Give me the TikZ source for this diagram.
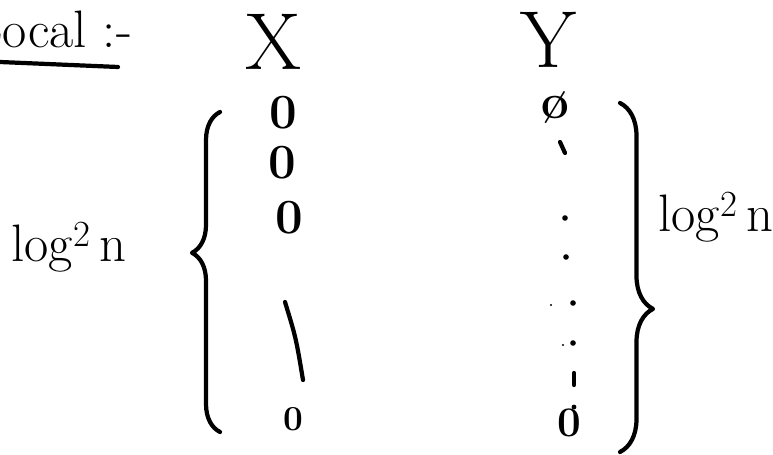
\documentclass[tikz,border=0pt]{standalone}
\usepackage{tikz}
\usetikzlibrary{decorations.pathreplacing, positioning, calc}

\tikzset{
  pen/.style={line width=2.4pt, line cap=round, line join=round},
  head/.style={font=\fontsize{46}{46}\selectfont, inner sep=0pt},
  bit/.style={font=\fontsize{28}{28}\selectfont\bfseries, inner sep=0pt},
  len/.style={font=\fontsize{30}{30}\selectfont, inner sep=0pt, anchor=base},
  curly/.style={pen, decorate, decoration={brace}},
}

\begin{document}
\begin{tikzpicture}[x=0.02cm, y=-0.02cm]
    \useasboundingbox (0,0) rectangle (773,455);
    \clip (0,0) rectangle (773,455);

    % heading, cut at the left edge
    \node[anchor=base west, font=\fontsize{30}{30}\selectfont, inner sep=0pt] (title) at (-28,48) {Local :-};
    \draw[pen] (0,62) -- (118,67);

    \node[head] (xhead) at (273,42) {X};
    \node[head] (yhead) at (548,40) {Y};

    % column X
    \node[bit] (xa) at (283,113) {0};
    \node[bit] (xb) at (282,163) {0};
    \node[bit] (xc) at (289,218) {0};
    \node[bit, font=\fontsize{20}{20}\selectfont\bfseries] (xd) at (293,419) {0};
    \draw[pen] (285,302) .. controls (296,338) .. (303,380);

    % column Y
    \node[bit, font=\fontsize{28}{28}\selectfont\bfseries] (ya) at (555,108) {ø};
    \node[bit, font=\fontsize{24}{24}\selectfont\bfseries] (yb) at (569,423) {0};
    \draw[pen] (560,142) -- (565,153);
    \draw[pen] (574,373) -- (574,385);
    \foreach \px/\py/\r in {565/218/2.8, 566/257/2.8, 573/303/2.8, 551/305/1.2, 573/343/2.8, 563/345/1.2, 574/407/2.4}
        \fill (\px,\py) circle (\r);

    % braces and their lengths
    \draw[curly, decoration={amplitude=0.56cm, aspect=0.56}] (220,432) -- (220,112);
    \draw[curly, decoration={amplitude=0.66cm, aspect=0.59}] (620,103) -- (620,452);
    \node[len] (xlen) at (69,262) {log\textsuperscript{2}\,n};
    \node[len] (ylen) at (716,232) {log\textsuperscript{2}\,n};
\end{tikzpicture}
\end{document}
